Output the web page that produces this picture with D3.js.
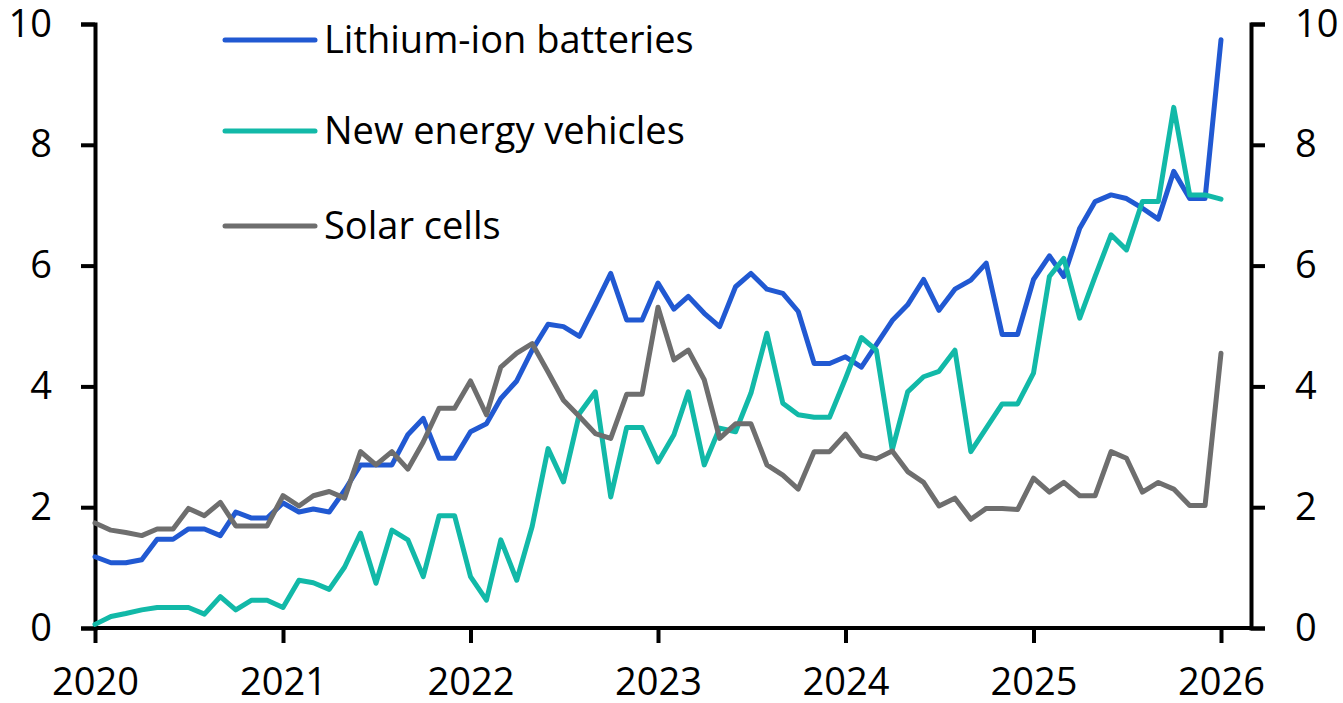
<!DOCTYPE html>
<html>
<head>
<meta charset="utf-8">
<script src="https://cdn.jsdelivr.net/npm/d3@7"></script>
<style>
  body { margin: 0; background: #fff; }
  svg { display: block; }
  text { font-family: "Open Sans", sans-serif; fill: #000; }
</style>
</head>
<body>
<svg id="chart" width="1343" height="703"></svg>
<script>
// DATA (monthly, Jan 2020 - Jan 2026)
const startMonth = new Date(2020, 0, 1);

const seriesNames = ["Lithium-ion batteries", "New energy vehicles", "Solar cells"];
const seriesColors = ["#2159d2", "#12b9a8", "#6e6e6e"];

const lithium = [
  1.18, 1.08, 1.08, 1.13, 1.47, 1.47, 1.64, 1.64, 1.53, 1.92, 1.82, 1.82,
  2.07, 1.92, 1.97, 1.92, 2.28, 2.70, 2.70, 2.70, 3.20, 3.47, 2.81, 2.81,
  3.25, 3.38, 3.80, 4.09, 4.60, 5.03, 4.99, 4.83, 5.35, 5.87, 5.10, 5.10,
  5.71, 5.28, 5.49, 5.21, 4.99, 5.65, 5.87, 5.61, 5.54, 5.24, 4.38, 4.38,
  4.49, 4.32, 4.69, 5.09, 5.35, 5.77, 5.26, 5.61, 5.76, 6.04, 4.86, 4.86,
  5.77, 6.16, 5.82, 6.62, 7.06, 7.17, 7.11, 6.95, 6.77, 7.56, 7.11, 7.11,
  9.74
];

const nev = [
  0.06, 0.19, 0.24, 0.30, 0.34, 0.34, 0.34, 0.23, 0.52, 0.30, 0.46, 0.46,
  0.34, 0.79, 0.75, 0.64, 1.01, 1.57, 0.74, 1.62, 1.46, 0.85, 1.86, 1.86,
  0.85, 0.46, 1.46, 0.79, 1.68, 2.97, 2.42, 3.55, 3.91, 2.17, 3.32, 3.32,
  2.75, 3.20, 3.91, 2.70, 3.31, 3.25, 3.89, 4.88, 3.72, 3.53, 3.49, 3.49,
  4.13, 4.81, 4.60, 2.95, 3.91, 4.16, 4.25, 4.60, 2.92, 3.31, 3.71, 3.71,
  4.22, 5.82, 6.12, 5.13, 5.82, 6.51, 6.26, 7.06, 7.06, 8.62, 7.17, 7.17,
  7.10
];

const solar = [
  1.74, 1.62, 1.58, 1.53, 1.64, 1.64, 1.98, 1.86, 2.08, 1.69, 1.69, 1.69,
  2.19, 2.02, 2.19, 2.26, 2.15, 2.92, 2.70, 2.92, 2.63, 3.08, 3.64, 3.64,
  4.09, 3.53, 4.32, 4.55, 4.71, 4.24, 3.77, 3.50, 3.22, 3.14, 3.87, 3.87,
  5.31, 4.44, 4.60, 4.11, 3.14, 3.38, 3.38, 2.70, 2.53, 2.30, 2.92, 2.92,
  3.21, 2.86, 2.80, 2.93, 2.59, 2.41, 2.02, 2.15, 1.80, 1.98, 1.98, 1.96,
  2.48, 2.25, 2.41, 2.19, 2.19, 2.92, 2.81, 2.25, 2.41, 2.30, 2.03, 2.03,
  4.55
];

const yearTicks = [2020, 2021, 2022, 2023, 2024, 2025, 2026];
const yTicks = [0, 2, 4, 6, 8, 10];

// LAYOUT
const svg = d3.select("svg#chart");
const margin = { left: 95, right: 1251, plotEnd: 1221, top: 24, bottom: 628 };
const fontSize = 38;

const months = lithium.map((d, i) => d3.timeMonth.offset(startMonth, i));
const allSeries = [lithium, nev, solar];

// SCALES
const xScale = d3.scaleTime()
  .domain([new Date(yearTicks[0], 0, 1), new Date(yearTicks[yearTicks.length - 1], 0, 1)])
  .range([margin.left, margin.plotEnd]);

const yScale = d3.scaleLinear()
  .domain([0, 10])
  .range([margin.bottom, margin.top]);

// AXES
const styleAxis = g => {
  g.attr("font-family", null);
  g.selectAll("path, line").attr("stroke", "#000").attr("stroke-width", 4);
  g.selectAll("text").style("font-size", fontSize + "px").attr("fill", "#000");
};

svg.append("g")
  .attr("transform", `translate(${margin.left},0)`)
  .call(d3.axisLeft(yScale).tickValues(yTicks).tickSizeOuter(0).tickSize(14).tickPadding(29))
  .call(styleAxis);

svg.append("g")
  .attr("transform", `translate(${margin.right},0)`)
  .call(d3.axisRight(yScale).tickValues(yTicks).tickSizeOuter(0).tickSize(14).tickPadding(30))
  .call(styleAxis);

svg.append("g")
  .attr("transform", `translate(0,${margin.bottom})`)
  .call(d3.axisBottom(xScale)
    .tickValues(yearTicks.map(y => new Date(y, 0, 1)))
    .tickFormat(d3.timeFormat("%Y"))
    .tickSizeOuter(0).tickSize(15).tickPadding(25))
  .call(g => g.select(".domain").remove())
  .call(g => g.append("line")
    .attr("x1", margin.left - 2).attr("x2", margin.right + 2)
    .attr("y1", 0).attr("y2", 0))
  .call(styleAxis);

// LINES
const line = d3.line()
  .x((d, i) => xScale(months[i]))
  .y(d => yScale(d));

svg.append("g")
  .selectAll("path")
  .data(allSeries)
  .join("path")
  .attr("fill", "none")
  .attr("stroke", (d, i) => seriesColors[i])
  .attr("stroke-width", 5)
  .attr("stroke-linejoin", "round")
  .attr("stroke-linecap", "round")
  .attr("d", line);

// LEGEND
const legendY = [40, 131, 226];
const legend = svg.append("g");
seriesNames.forEach((name, i) => {
  legend.append("line")
    .attr("x1", 225).attr("x2", 315)
    .attr("y1", legendY[i]).attr("y2", legendY[i])
    .attr("stroke", seriesColors[i])
    .attr("stroke-width", 5)
    .attr("stroke-linecap", "round");
  legend.append("text")
    .attr("x", 324)
    .attr("y", legendY[i] + 13)
    .style("font-size", fontSize + "px")
    .text(name);
});
</script>
</body>
</html>
